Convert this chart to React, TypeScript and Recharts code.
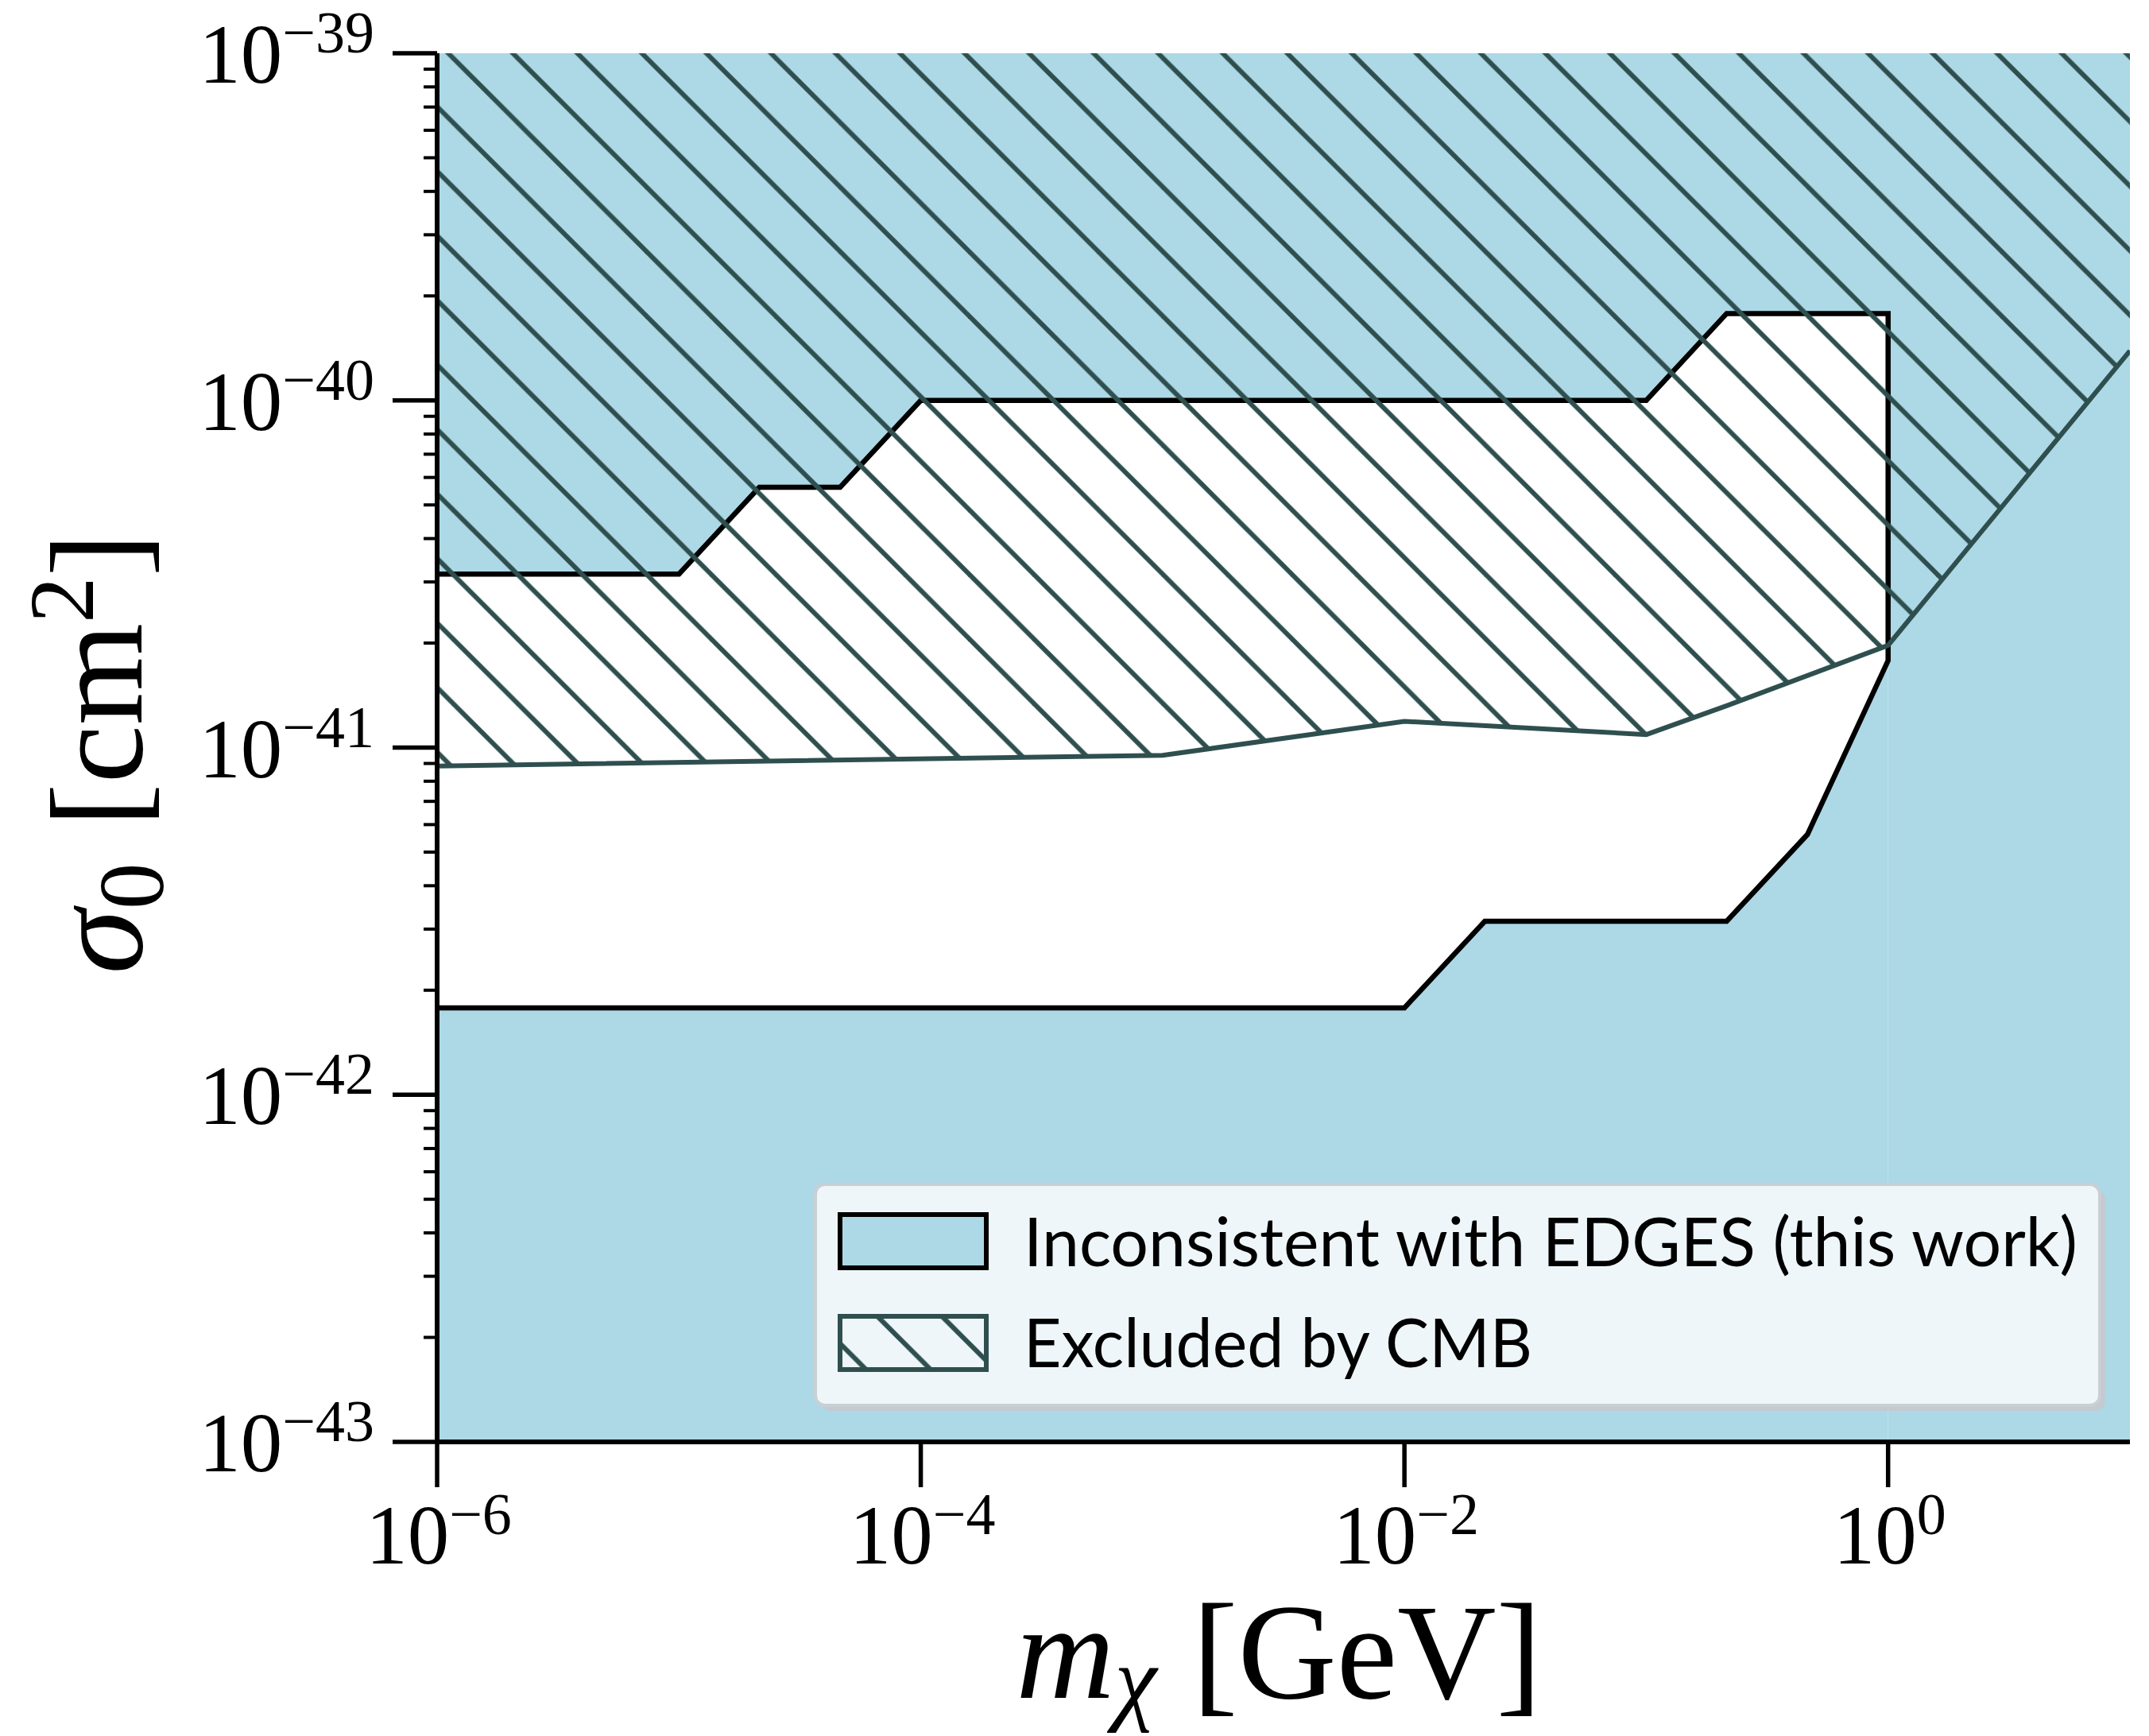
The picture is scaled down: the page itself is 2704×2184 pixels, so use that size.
import React from "react";
import { Area, CartesianGrid, ComposedChart, Legend, XAxis, YAxis } from "recharts";

// region consistent with EDGES: upper and lower black edges
const edgesUpperMass = [1e-6, 1e-5, 2.15e-5, 4.64e-5, 1e-4, 0.1, 0.215, 1];
const edgesUpperSigma = [3.16e-41, 3.16e-41, 5.62e-41, 5.62e-41, 1e-40, 1e-40, 1.78e-40, 1.78e-40];
const edgesLowerMass = [1e-6, 0.01, 0.0215, 0.215, 0.464, 1];
const edgesLowerSigma = [1.78e-42, 1.78e-42, 3.16e-42, 3.16e-42, 5.62e-42, 1.78e-41];

// CMB bound, everything above is excluded
const cmbMass = [1e-6, 1e-3, 1e-2, 0.1, 0.215, 1, 10];
const cmbSigma = [8.85e-42, 9.5e-42, 1.19e-41, 1.09e-41, 1.32e-41, 1.97e-41, 1.39e-40];

const massTicks = [1e-6, 1e-4, 1e-2, 1];
const sigmaDecades = [1e-43, 1e-42, 1e-41, 1e-40, 1e-39];
const minorSteps = [2, 3, 4, 5, 6, 7, 8, 9];
const sigmaTicks = [
  ...sigmaDecades,
  ...sigmaDecades.slice(0, -1).flatMap((d) => minorSteps.map((s) => s * d)),
];

const legendLabels = ["Inconsistent with EDGES (this work)", "Excluded by CMB"];

const LIGHT = "#ADD8E6";
const SLATE = "#2F4F4F";
const SERIF = "'Liberation Serif', 'DejaVu Serif', serif";
const SANS = "Lato, 'DejaVu Sans', sans-serif";

const zip = (ms: number[], ss: number[]) => ms.map((m, i) => ({ m, sigma: ss[i] }));
const upper = zip(edgesUpperMass, edgesUpperSigma);
const lower = zip(edgesLowerMass, edgesLowerSigma);
const outline = [...upper, ...lower.slice().reverse()];
const cmb = zip(cmbMass, cmbSigma);

const exponent = (v: number) => Math.round(Math.log10(v));
const isDecade = (v: number) => Math.abs(Math.log10(v) - exponent(v)) < 1e-6;
const sup = (e: number) => (e < 0 ? `\u2212${-e}` : `${e}`);

function Hatch({ id, period, phase }: { id: string; period: number; phase: number }) {
  // "\\" hatch: lines y = x + c
  return (
    <pattern id={id} patternUnits="userSpaceOnUse" width={period} height={period}>
      {[phase - period, phase].map((c) => (
        <line
          key={c}
          x1={-20}
          y1={-20 + c}
          x2={period + 20}
          y2={period + 20 + c}
          stroke={SLATE}
          strokeWidth={6}
        />
      ))}
    </pattern>
  );
}

function XTick(props: any) {
  const { x, y, payload } = props;
  const e = exponent(payload.value);
  return (
    <g>
      <line x1={x} x2={x} y1={y} y2={y + 57} stroke="#000" strokeWidth={5.5} />
      <text x={x + 2} y={y + 153} textAnchor="middle" fontFamily={SERIF} fontSize={105} fill="#000">
        10<tspan fontSize={74} dy={-37}>{sup(e)}</tspan>
      </text>
    </g>
  );
}

function YTick(props: any) {
  const { x, y, payload } = props;
  const v = payload.value;
  if (!isDecade(v)) {
    return <line x1={x - 17} x2={x} y1={y} y2={y} stroke="#000" strokeWidth={4} />;
  }
  return (
    <g>
      <line x1={x - 56} x2={x} y1={y} y2={y} stroke="#000" strokeWidth={5.5} />
      <text x={x - 79} y={y + 37} textAnchor="end" fontFamily={SERIF} fontSize={105} fill="#000">
        10<tspan fontSize={74} dy={-38}>{sup(exponent(v))}</tspan>
      </text>
    </g>
  );
}

const xTitle = () => (
  <text x={1609} y={2136} textAnchor="middle" fontFamily={SERIF} fontSize={172} fill="#000">
    <tspan fontStyle="italic">m</tspan>
    <tspan fontStyle="italic" fontSize={120} dy={18}>χ</tspan>
    <tspan dy={-18} dx={45}>[GeV]</tspan>
  </text>
);

const yTitle = () => (
  <text
    transform="translate(178, 948) rotate(-90)"
    x={0}
    y={0}
    textAnchor="middle"
    fontFamily={SERIF}
    fontSize={165}
    fill="#000"
  >
    <tspan fontStyle="italic">σ</tspan>
    <tspan fontSize={117} dy={27}>0</tspan>
    <tspan dy={-27} dx={45}>[cm</tspan>
    <tspan fontSize={117} dy={-61}>2</tspan>
    <tspan dy={61}>]</tspan>
  </text>
);

function LegendBox() {
  return (
    <svg width={1660} height={300} style={{ display: "block", overflow: "visible" }}>
      <defs>
        <Hatch id="legendHatch" period={81.2} phase={8.8} />
      </defs>
      <rect x={13} y={15} width={1616} height={278} rx={12} fill="#C3CBD0" />
      <rect x={6} y={8} width={1616} height={278} rx={12} fill="#EEF6F9" stroke="#C9CFD4" strokeWidth={4} />
      <rect x={37} y={46} width={184} height={67} fill={LIGHT} stroke="#000" strokeWidth={6} />
      <rect x={37} y={174} width={184} height={67} fill="url(#legendHatch)" stroke={SLATE} strokeWidth={6} />
      <text x={268} y={111} fontFamily={SANS} fontSize={86} fill="#000" textLength={1326} lengthAdjust="spacingAndGlyphs">
        {legendLabels[0]}
      </text>
      <text x={268} y={238} fontFamily={SANS} fontSize={86} fill="#000" textLength={640} lengthAdjust="spacingAndGlyphs">
        {legendLabels[1]}
      </text>
    </svg>
  );
}

export default function App() {
  const spine = { stroke: "#000", strokeWidth: 6 };
  return (
    <div style={{ position: "absolute", left: 0, top: 0, width: 2704, height: 2184, background: "#fff" }}>
      <ComposedChart width={2704} height={2184} margin={{ top: 67, right: 24, bottom: 0, left: 0 }}>
        <defs>
          <Hatch id="cmbHatch" period={81.2} phase={71.3} />
        </defs>
        <CartesianGrid horizontal={false} vertical={false} fill={LIGHT} fillOpacity={1} stroke="none" />
        <XAxis
          dataKey="m"
          type="number"
          scale="log"
          domain={[1e-6, 10]}
          allowDataOverflow
          ticks={massTicks}
          interval={0}
          tick={<XTick />}
          tickLine={false}
          tickSize={0}
          tickMargin={0}
          axisLine={spine}
          height={370}
          label={xTitle}
        />
        <YAxis
          type="number"
          scale="log"
          domain={[1e-43, 1e-39]}
          allowDataOverflow
          ticks={sigmaTicks}
          interval={0}
          tick={<YTick />}
          tickLine={false}
          tickSize={0}
          tickMargin={0}
          axisLine={spine}
          width={550}
          label={yTitle}
        />
        <XAxis
          xAxisId="top"
          orientation="top"
          dataKey="m"
          type="number"
          scale="log"
          domain={[1e-6, 10]}
          allowDataOverflow
          height={0}
          tick={false}
          tickLine={false}
          axisLine={spine}
        />
        <YAxis
          yAxisId="right"
          orientation="right"
          type="number"
          scale="log"
          domain={[1e-43, 1e-39]}
          allowDataOverflow
          width={0}
          tick={false}
          tickLine={false}
          axisLine={spine}
        />
        <Area
          data={upper}
          dataKey="sigma"
          type="linear"
          fill="#ffffff"
          fillOpacity={1}
          stroke="none"
          dot={false}
          activeDot={false}
          legendType="none"
          isAnimationActive={false}
        />
        <Area
          data={lower}
          dataKey="sigma"
          type="linear"
          fill={LIGHT}
          fillOpacity={1}
          stroke="none"
          dot={false}
          activeDot={false}
          legendType="none"
          isAnimationActive={false}
        />
        <Area
          data={outline}
          dataKey="sigma"
          type="linear"
          fill="none"
          stroke="#000"
          strokeWidth={6.5}
          dot={false}
          activeDot={false}
          name={legendLabels[0]}
          isAnimationActive={false}
        />
        <Area
          data={cmb}
          dataKey="sigma"
          type="linear"
          baseValue={1e-39}
          fill="url(#cmbHatch)"
          fillOpacity={1}
          stroke={SLATE}
          strokeWidth={6}
          dot={false}
          activeDot={false}
          name={legendLabels[1]}
          isAnimationActive={false}
        />
        <Legend
          layout="horizontal"
          verticalAlign="middle"
          align="center"
          content={() => <LegendBox />}
          wrapperStyle={{ left: 1020, top: 1482, width: 1660, height: 300 }}
        />
      </ComposedChart>
    </div>
  );
}
